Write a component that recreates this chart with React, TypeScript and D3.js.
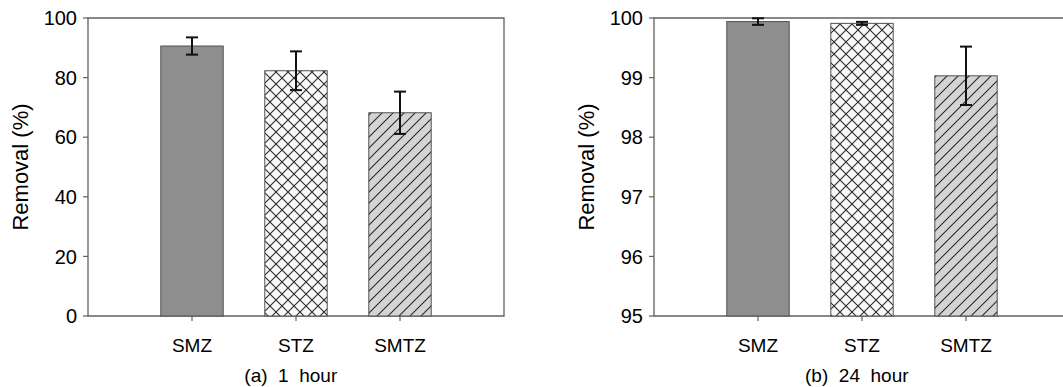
import React from "react";
import * as d3 from "d3";

const categories = ["SMZ", "STZ", "SMTZ"];
const removal1h = [90.6, 82.3, 68.2];
const error1h = [2.9, 6.5, 7.1];
const removal24h = [99.94, 99.91, 99.03];
const error24h = [0.055, 0.025, 0.49];
const ticks1h = [0, 20, 40, 60, 80, 100];
const ticks24h = [95, 96, 97, 98, 99, 100];
const fills = ["#8e8e8e", "url(#crosshatch)", "url(#diagonal)"];

const W = 1063;
const H = 387;
const FONT = "'Liberation Sans', Arial, sans-serif";

type PanelProps = {
  left: number;
  values: number[];
  errors: number[];
  ticks: number[];
  caption: string;
};

function Panel({ left, values, errors, ticks, caption }: PanelProps) {
  const top = 18;
  const bottom = 316;
  const right = left + 416;
  // slot 0 is left empty, categories sit at 1..3, frame ends at 4
  const x = d3.scaleLinear().domain([0, 4]).range([left, right]);
  const y = d3
    .scaleLinear()
    .domain(d3.extent(ticks) as [number, number])
    .range([bottom, top]);
  const barW = (x(1) - x(0)) * 0.6;
  const capW = 12;

  return (
    <g>
      {/* frame */}
      <path
        d={`M${left},${bottom} L${left},${top} L${right},${top} L${right},${bottom} Z`}
        fill="none"
        stroke="#606060"
        strokeWidth={1.3}
      />

      {/* bars */}
      {values.map((v, i) => (
        <rect
          key={categories[i]}
          x={x(i + 1) - barW / 2}
          y={y(v)}
          width={barW}
          height={bottom - y(v)}
          fill={fills[i]}
          stroke="#505050"
          strokeWidth={1}
        />
      ))}

      {/* error bars */}
      {values.map((v, i) => {
        const cx = x(i + 1);
        const y1 = y(v + errors[i]);
        const y2 = y(v - errors[i]);
        return (
          <g key={categories[i]} stroke="#111" strokeWidth={2}>
            <line x1={cx} x2={cx} y1={y1} y2={y2} />
            <line x1={cx - capW / 2} x2={cx + capW / 2} y1={y1} y2={y1} />
            <line x1={cx - capW / 2} x2={cx + capW / 2} y1={y2} y2={y2} />
          </g>
        );
      })}

      {/* y ticks */}
      {ticks.map((t) => (
        <g key={t}>
          <line x1={left - 5} x2={left} y1={y(t)} y2={y(t)} stroke="#606060" strokeWidth={1.2} />
          <text
            x={left - 11}
            y={y(t)}
            dy="0.36em"
            textAnchor="end"
            fontSize={20}
            fontFamily={FONT}
            fill="#000"
          >
            {t}
          </text>
        </g>
      ))}

      {/* x ticks */}
      {categories.map((c, i) => (
        <g key={c}>
          <line x1={x(i + 1)} x2={x(i + 1)} y1={bottom} y2={bottom + 5} stroke="#606060" strokeWidth={1.2} />
          <text
            x={x(i + 1)}
            y={352}
            textAnchor="middle"
            fontSize={19}
            fontFamily={FONT}
            fill="#000"
          >
            {c}
          </text>
        </g>
      ))}

      {/* y label */}
      <text
        transform={`translate(${left - 60},${(top + bottom) / 2}) rotate(-90)`}
        textAnchor="middle"
        fontSize={22}
        fontFamily={FONT}
        fill="#000"
      >
        Removal (%)
      </text>

      {/* caption */}
      <text
        x={x(1.95)}
        y={382}
        textAnchor="middle"
        fontSize={19}
        fontFamily={FONT}
        fill="#000"
        style={{ whiteSpace: "pre" }}
      >
        {caption}
      </text>
    </g>
  );
}

export default function App() {
  return (
    <svg
      width={W}
      height={H}
      viewBox={`0 0 ${W} ${H}`}
      style={{ position: "absolute", left: 0, top: 0, background: "#fff" }}
    >
      <defs>
        <pattern id="crosshatch" patternUnits="userSpaceOnUse" width={12} height={12}>
          <rect width={12} height={12} fill="#f8f8f8" />
          <path d="M0,0 L12,12 M12,0 L0,12" stroke="#2a2a2a" strokeWidth={1.1} />
        </pattern>
        <pattern id="diagonal" patternUnits="userSpaceOnUse" width={11} height={11}>
          <rect width={11} height={11} fill="#d4d4d4" />
          <path d="M0,11 L11,0 M-2,2 L2,-2 M9,13 L13,9" stroke="#2a2a2a" strokeWidth={1.1} />
        </pattern>
      </defs>
      <Panel left={88} values={removal1h} errors={error1h} ticks={ticks1h} caption="(a)  1  hour" />
      <Panel left={654} values={removal24h} errors={error24h} ticks={ticks24h} caption="(b)  24  hour" />
    </svg>
  );
}
